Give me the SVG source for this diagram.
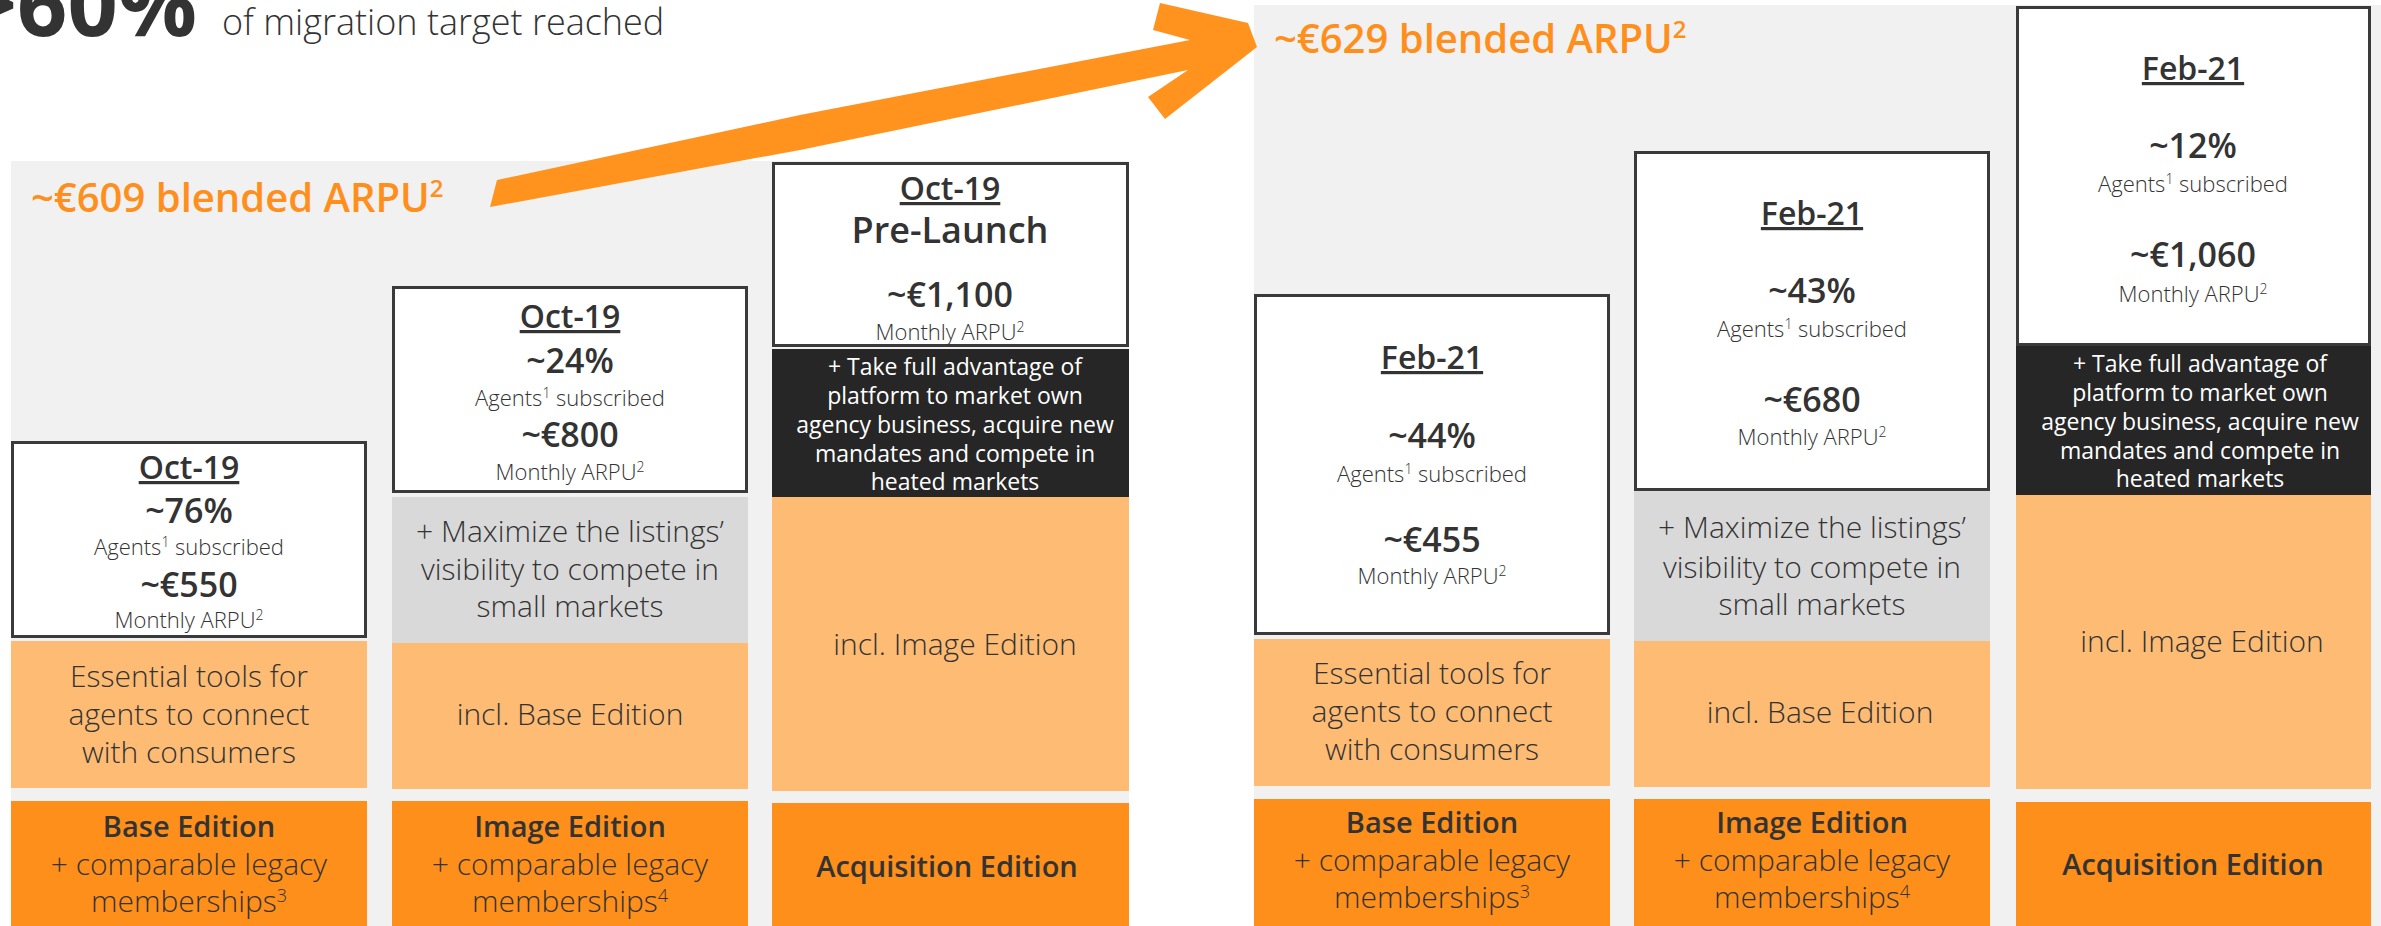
<svg xmlns="http://www.w3.org/2000/svg" width="2381" height="926" viewBox="0 0 2381 926">
  <style>
    text { font-family: "Open Sans", "Liberation Sans", sans-serif; fill: #333333; text-anchor: middle; }
    .panel { fill: #F1F1F1; }
    .card { fill: #FFFFFF; stroke: #3A3A3A; stroke-width: 3; }
    .plus { fill: #D9D9D9; }
    .dark { fill: #262626; }
    .light { fill: #FDBB73; }
    .edition { fill: #FD8F1A; }
    .date { font-size: 32px; font-weight: 600; text-decoration: underline; }
    .big { font-size: 34px; font-weight: 600; }
    .small { font-size: 22px; font-weight: 300; }
    .body { font-size: 30px; font-weight: 300; }
    .ed { font-size: 29px; font-weight: 600; }
    .inv { font-size: 23px; font-weight: 400; fill: #FFFFFF; }
    .arpu { font-size: 40px; font-weight: 600; fill: #FF8F1C; text-anchor: start; }
    .sup { font-size: 14px; }
    .supb { font-size: 24px; }
    .arrow { fill: #FF931E; }
  </style>

  <!-- panel backgrounds -->
  <rect class="panel" x="11" y="161" width="1118" height="765"/>
  <rect class="panel" x="1254" y="5" width="1127" height="921"/>

  <!-- headline -->
  <g id="headline">
    <text x="197" y="36" style="font-size:88px;font-weight:700;text-anchor:end">&gt;60%</text>
    <text x="222" y="35" style="font-size:36px;font-weight:300;text-anchor:start">of migration target reached</text>
  </g>

  <!-- blended ARPU labels -->
  <g id="arpu-before">
    <text class="arpu" x="31" y="212">~€609 blended ARPU<tspan class="supb" dy="-15">2</tspan></text>
  </g>
  <g id="arpu-after">
    <text class="arpu" x="1274" y="53">~€629 blended ARPU<tspan class="supb" dy="-15">2</tspan></text>
  </g>

  <!-- connector: growth arrow -->
  <g id="connectors">
    <polygon class="arrow" points="497,180 800,115 1190,40 1153,30 1160,3 1248,23 1257,47 1165,119 1148,97 1188,70 800,150 490,207"/>
  </g>

  <!-- Oct-19: Base Edition -->
  <g id="oct19-base">
    <rect class="card" x="12.5" y="442.5" width="353" height="194"/>
    <text class="date" x="189" y="479">Oct-19</text>
    <text class="big" x="189" y="523">~76%</text>
    <text class="small" x="189" y="555">Agents<tspan class="sup" dy="-8">1</tspan><tspan dy="8"> subscribed</tspan></text>
    <text class="big" x="189" y="597">~€550</text>
    <text class="small" x="189" y="628">Monthly ARPU<tspan class="sup" dy="-8">2</tspan></text>
    <rect class="light" x="11" y="641" width="356" height="147"/>
    <text class="body" x="189" y="687">Essential tools for</text>
    <text class="body" x="189" y="725">agents to connect</text>
    <text class="body" x="189" y="763">with consumers</text>
    <rect class="edition" x="11" y="801" width="356" height="125"/>
    <text class="ed" x="189" y="837">Base Edition</text>
    <text class="body" x="189" y="875">+ comparable legacy</text>
    <text class="body" x="189" y="912">memberships<tspan class="sup" dy="-10" style="font-size:18px">3</tspan></text>
  </g>

  <!-- Oct-19: Image Edition -->
  <g id="oct19-image">
    <rect class="card" x="393.5" y="287.5" width="353" height="204"/>
    <text class="date" x="570" y="328">Oct-19</text>
    <text class="big" x="570" y="373">~24%</text>
    <text class="small" x="570" y="406">Agents<tspan class="sup" dy="-8">1</tspan><tspan dy="8"> subscribed</tspan></text>
    <text class="big" x="570" y="447">~€800</text>
    <text class="small" x="570" y="480">Monthly ARPU<tspan class="sup" dy="-8">2</tspan></text>
    <rect class="plus" x="392" y="497" width="356" height="146"/>
    <text class="body" x="570" y="542">+ Maximize the listings’</text>
    <text class="body" x="570" y="580">visibility to compete in</text>
    <text class="body" x="570" y="617">small markets</text>
    <rect class="light" x="392" y="643" width="356" height="146"/>
    <text class="body" x="570" y="725">incl. Base Edition</text>
    <rect class="edition" x="392" y="801" width="356" height="125"/>
    <text class="ed" x="570" y="837">Image Edition</text>
    <text class="body" x="570" y="875">+ comparable legacy</text>
    <text class="body" x="570" y="912">memberships<tspan class="sup" dy="-10" style="font-size:18px">4</tspan></text>
  </g>

  <!-- Oct-19: Acquisition Edition (pre-launch) -->
  <g id="oct19-acquisition">
    <rect class="card" x="773.5" y="163.5" width="354" height="182"/>
    <text class="date" x="950" y="200">Oct-19</text>
    <text class="big" x="950" y="243" style="font-size:36px">Pre-Launch</text>
    <text class="big" x="950" y="307">~€1,100</text>
    <text class="small" x="950" y="340">Monthly ARPU<tspan class="sup" dy="-8">2</tspan></text>
    <rect class="dark" x="772" y="349" width="357" height="148"/>
    <text class="inv" x="955" y="375">+ Take full advantage of</text>
    <text class="inv" x="955" y="404">platform to market own</text>
    <text class="inv" x="955" y="433">agency business, acquire new</text>
    <text class="inv" x="955" y="462">mandates and compete in</text>
    <text class="inv" x="955" y="490">heated markets</text>
    <rect class="light" x="772" y="497" width="357" height="294"/>
    <text class="body" x="955" y="655">incl. Image Edition</text>
    <rect class="edition" x="772" y="803" width="357" height="123"/>
    <text class="ed" x="947" y="877">Acquisition Edition</text>
  </g>

  <!-- Feb-21: Base Edition -->
  <g id="feb21-base">
    <rect class="card" x="1255.5" y="295.5" width="353" height="338"/>
    <text class="date" x="1432" y="369">Feb-21</text>
    <text class="big" x="1432" y="448">~44%</text>
    <text class="small" x="1432" y="482">Agents<tspan class="sup" dy="-8">1</tspan><tspan dy="8"> subscribed</tspan></text>
    <text class="big" x="1432" y="552">~€455</text>
    <text class="small" x="1432" y="584">Monthly ARPU<tspan class="sup" dy="-8">2</tspan></text>
    <rect class="light" x="1254" y="639" width="356" height="147"/>
    <text class="body" x="1432" y="684">Essential tools for</text>
    <text class="body" x="1432" y="722">agents to connect</text>
    <text class="body" x="1432" y="760">with consumers</text>
    <rect class="edition" x="1254" y="799" width="356" height="127"/>
    <text class="ed" x="1432" y="833">Base Edition</text>
    <text class="body" x="1432" y="871">+ comparable legacy</text>
    <text class="body" x="1432" y="908">memberships<tspan class="sup" dy="-10" style="font-size:18px">3</tspan></text>
  </g>

  <!-- Feb-21: Image Edition -->
  <g id="feb21-image">
    <rect class="card" x="1635.5" y="152.5" width="353" height="337"/>
    <text class="date" x="1812" y="225">Feb-21</text>
    <text class="big" x="1812" y="303">~43%</text>
    <text class="small" x="1812" y="337">Agents<tspan class="sup" dy="-8">1</tspan><tspan dy="8"> subscribed</tspan></text>
    <text class="big" x="1812" y="412">~€680</text>
    <text class="small" x="1812" y="445">Monthly ARPU<tspan class="sup" dy="-8">2</tspan></text>
    <rect class="plus" x="1634" y="491" width="356" height="150"/>
    <text class="body" x="1812" y="538">+ Maximize the listings’</text>
    <text class="body" x="1812" y="578">visibility to compete in</text>
    <text class="body" x="1812" y="615">small markets</text>
    <rect class="light" x="1634" y="641" width="356" height="146"/>
    <text class="body" x="1820" y="723">incl. Base Edition</text>
    <rect class="edition" x="1634" y="799" width="356" height="127"/>
    <text class="ed" x="1812" y="833">Image Edition</text>
    <text class="body" x="1812" y="871">+ comparable legacy</text>
    <text class="body" x="1812" y="908">memberships<tspan class="sup" dy="-10" style="font-size:18px">4</tspan></text>
  </g>

  <!-- Feb-21: Acquisition Edition -->
  <g id="feb21-acquisition">
    <rect class="card" x="2017.5" y="7.5" width="352" height="337"/>
    <text class="date" x="2193" y="80">Feb-21</text>
    <text class="big" x="2193" y="158">~12%</text>
    <text class="small" x="2193" y="192">Agents<tspan class="sup" dy="-8">1</tspan><tspan dy="8"> subscribed</tspan></text>
    <text class="big" x="2193" y="267">~€1,060</text>
    <text class="small" x="2193" y="302">Monthly ARPU<tspan class="sup" dy="-8">2</tspan></text>
    <rect class="dark" x="2016" y="346" width="355" height="149"/>
    <text class="inv" x="2200" y="372">+ Take full advantage of</text>
    <text class="inv" x="2200" y="401">platform to market own</text>
    <text class="inv" x="2200" y="430">agency business, acquire new</text>
    <text class="inv" x="2200" y="459">mandates and compete in</text>
    <text class="inv" x="2200" y="487">heated markets</text>
    <rect class="light" x="2016" y="495" width="355" height="294"/>
    <text class="body" x="2202" y="652">incl. Image Edition</text>
    <rect class="edition" x="2016" y="802" width="355" height="124"/>
    <text class="ed" x="2193" y="875">Acquisition Edition</text>
  </g>
</svg>
